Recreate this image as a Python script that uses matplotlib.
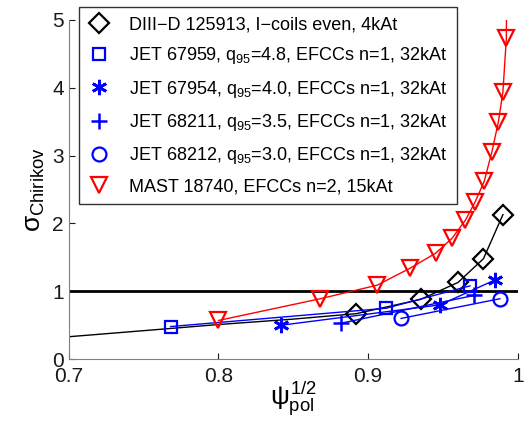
import numpy as np
import matplotlib
matplotlib.use("Agg")
import matplotlib.pyplot as plt
from matplotlib.lines import Line2D

plt.rcParams['font.family'] = ['Liberation Sans', 'DejaVu Sans']
plt.rcParams['mathtext.fontset'] = 'custom'
plt.rcParams['mathtext.rm'] = 'Liberation Sans'
plt.rcParams['mathtext.it'] = 'Liberation Sans'

# DIII-D 125913 (first points are line only)
diiid_x = [0.700, 0.767, 0.800, 0.850, 0.892, 0.935, 0.960, 0.977, 0.990]
diiid_y = [0.33, 0.45, 0.51, 0.59, 0.67, 0.88, 1.13, 1.48, 2.13]
diiid_marks = [4, 5, 6, 7, 8]

jet67959_x = [0.768, 0.912, 0.968]
jet67959_y = [0.48, 0.75, 1.08]

jet67954_x = [0.842, 0.948, 0.985]
jet67954_y = [0.50, 0.80, 1.17]

jet68211_x = [0.882, 0.971]
jet68211_y = [0.53, 0.94]

jet68212_x = [0.922, 0.988]
jet68212_y = [0.60, 0.89]

# MAST 18740 (last point above the top, clipped)
mast_x = [0.800, 0.868, 0.906, 0.928, 0.945, 0.956, 0.965, 0.9715, 0.9775,
          0.9827, 0.987, 0.990, 0.9923, 0.9925]
mast_y = [0.57, 0.89, 1.09, 1.34, 1.56, 1.78, 2.05, 2.32, 2.62,
          3.06, 3.50, 3.94, 4.73, 5.4]

labels = ['DIII\u2212D 125913, I\u2212coils even, 4kAt',
          'JET 67959, q$_{95}$=4.8, EFCCs n=1, 32kAt',
          'JET 67954, q$_{95}$=4.0, EFCCs n=1, 32kAt',
          'JET 68211, q$_{95}$=3.5, EFCCs n=1, 32kAt',
          'JET 68212, q$_{95}$=3.0, EFCCs n=1, 32kAt',
          'MAST 18740, EFCCs n=2, 15kAt']

asterisk = (6, 2, 0)

fig = plt.figure(figsize=(5.29, 4.23), dpi=100)
ax = fig.add_axes([0.130, 0.151, 0.849, 0.802])

ax.axhline(1, color='k', lw=2)

lw = 1.0
mew = 1.6
ax.plot(diiid_x, diiid_y, '-', color='k', lw=lw, marker='D', ms=10,
        mfc='none', mew=mew, markevery=diiid_marks)
ax.plot(jet67959_x, jet67959_y, '-', color='b', lw=lw, marker='s', ms=9,
        mfc='none', mew=mew)
ax.plot(jet67954_x, jet67954_y, '-', color='b', lw=lw, marker=asterisk, ms=11,
        mew=2.0)
ax.plot(jet68211_x, jet68211_y, '-', color='b', lw=lw, marker='+', ms=12,
        mew=1.8)
ax.plot(jet68212_x, jet68212_y, '-', color='b', lw=lw, marker='o', ms=10,
        mfc='none', mew=mew)
ax.plot(mast_x, mast_y, '-', color='r', lw=lw, marker='v', ms=12,
        mfc='none', mew=mew)

ax.set_xlim(0.7, 1.0)
ax.set_ylim(0, 5)
ax.set_xticks([0.7, 0.8, 0.9, 1.0])
ax.set_xticklabels(['0.7', '0.8', '0.9', '1'])
ax.set_yticks([0, 1, 2, 3, 4, 5])
ax.tick_params(direction='in', labelsize=15, length=4, width=0.8, colors='0.1')
ax.tick_params(axis='x', pad=6)
ax.spines['top'].set_visible(False)
ax.spines['right'].set_visible(False)
for s in ('left', 'bottom'):
    ax.spines[s].set_color('0.5')

ax.set_xlabel(r'$\psi_{\mathrm{pol}}^{1/2}$', fontsize=19, labelpad=-5)
ax.set_ylabel(r'$\sigma_{\mathrm{Chirikov}}$', fontsize=19, labelpad=4)

handles = [
    Line2D([], [], ls='none', color='k', marker='D', ms=10, mfc='none', mew=mew),
    Line2D([], [], ls='none', color='b', marker='s', ms=9, mfc='none', mew=mew),
    Line2D([], [], ls='none', color='b', marker=asterisk, ms=11, mew=2.0),
    Line2D([], [], ls='none', color='b', marker='+', ms=12, mew=1.8),
    Line2D([], [], ls='none', color='b', marker='o', ms=10, mfc='none', mew=mew),
    Line2D([], [], ls='none', color='r', marker='v', ms=12, mfc='none', mew=mew),
]
leg = ax.legend(handles, labels, loc='upper left', bbox_to_anchor=(0.022, 1.038),
                fontsize=13, frameon=True, fancybox=False, borderaxespad=0,
                handlelength=1.3, handletextpad=1.0, labelspacing=0.68,
                borderpad=0.5)
leg.get_frame().set_edgecolor('k')
leg.get_frame().set_linewidth(1.0)

fig.savefig('out.png', dpi=100)
